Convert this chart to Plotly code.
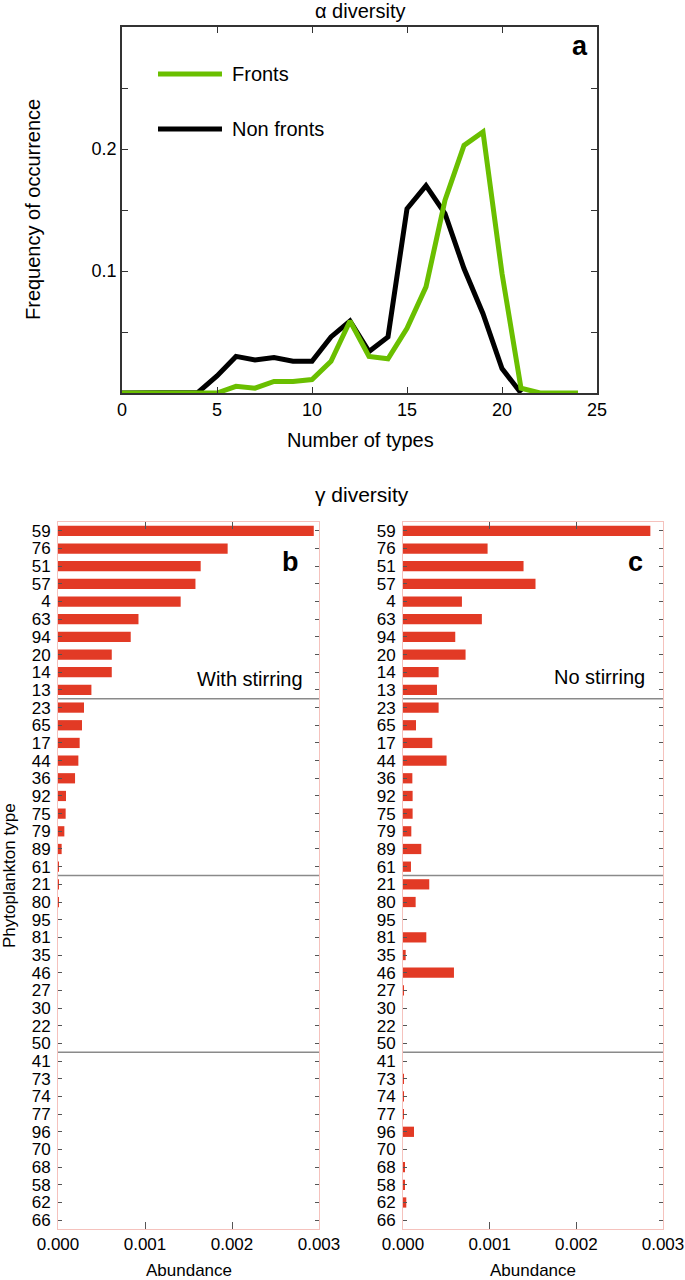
import plotly.graph_objects as go

# ---- data: panel a (alpha diversity) ----
fronts_x = list(range(0, 25))
fronts_y = [0, 0, 0, 0, 0, 0, 0.0055, 0.004, 0.0095, 0.0095, 0.011, 0.026, 0.059,
            0.030, 0.028, 0.053, 0.087, 0.158, 0.203, 0.214, 0.098, 0.004, 0, 0, 0]
nonfronts_x = list(range(0, 22))
nonfronts_y = [0, 0, 0, 0, 0.0005, 0.014, 0.030, 0.027, 0.029, 0.026, 0.026, 0.046,
               0.059, 0.034, 0.046, 0.151, 0.170, 0.147, 0.102, 0.065, 0.020, 0]

# ---- data: panels b, c (gamma diversity) ----
types = ["59", "76", "51", "57", "4", "63", "94", "20", "14", "13",
         "23", "65", "17", "44", "36", "92", "75", "79", "89", "61",
         "21", "80", "95", "81", "35", "46", "27", "30", "22", "50",
         "41", "73", "74", "77", "96", "70", "68", "58", "62", "66"]
with_stirring = [0.00294, 0.00195, 0.00164, 0.00158, 0.00141, 0.000925, 0.000836, 0.000618, 0.000618, 0.000384,
                 0.000299, 0.000276, 0.000249, 0.000234, 0.000196, 0.000092, 0.000088, 0.000073, 0.000042, 0.000008,
                 0.000008, 0.000002, 0, 0, 0, 0, 0, 0, 0, 0,
                 0, 0, 0, 0, 0, 0, 0, 0, 0, 0]
no_stirring = [0.002854, 0.000976, 0.001391, 0.001529, 0.00068, 0.00091, 0.000603, 0.000722, 0.000411, 0.000392,
               0.000411, 0.00015, 0.000338, 0.000503, 0.000108, 0.000111, 0.000111, 0.000096, 0.000211, 0.000092,
               0.000303, 0.000146, 0, 0.000269, 0.000031, 0.000588, 0.000008, 0, 0, 0,
               0, 0.000005, 0.000008, 0.000003, 0.000127, 0, 0.000015, 0.000015, 0.000038, 0]
group_size = 10

FONT = "Liberation Sans, Arial, Helvetica, sans-serif"
GREEN = "#6abf00"
RED = "#e23a25"
FRAME_PINK = "#f5c2bd"
W, H = 685, 1280

fig = go.Figure()

fig.add_trace(go.Scatter(x=nonfronts_x, y=nonfronts_y, mode="lines",
                         line=dict(color="black", width=5), name="Non fronts",
                         xaxis="x", yaxis="y", showlegend=False))
fig.add_trace(go.Scatter(x=fronts_x, y=fronts_y, mode="lines",
                         line=dict(color=GREEN, width=5), name="Fronts",
                         xaxis="x", yaxis="y", showlegend=False))

fig.add_trace(go.Bar(x=with_stirring, y=types, orientation="h", width=0.58,
                     marker=dict(color=RED, line=dict(width=0)),
                     xaxis="x2", yaxis="y2", showlegend=False))
fig.add_trace(go.Bar(x=no_stirring, y=types, orientation="h", width=0.58,
                     marker=dict(color=RED, line=dict(width=0)),
                     xaxis="x3", yaxis="y3", showlegend=False))

top_axis = dict(showline=True, linecolor="#333", linewidth=1.5, mirror="ticks",
                ticks="inside", ticklen=6, tickcolor="#333", showgrid=False,
                zeroline=False, automargin=False,
                tickfont=dict(size=18, family=FONT, color="black"))

bar_x = dict(showline=True, linecolor=FRAME_PINK, linewidth=1, mirror="ticks",
             ticks="inside", ticklen=7, tickcolor="#555", showgrid=False, zeroline=False,
             range=[0, 0.003], tickvals=[0, 0.001, 0.002, 0.003], tickformat=".3f",
             automargin=False, tickfont=dict(size=17, family=FONT, color="black"))
bar_y = dict(type="category", categoryorder="array", categoryarray=types,
             tickmode="array", tickvals=types, ticktext=types,
             range=[len(types) - 0.5, -0.5], showline=True, linecolor=FRAME_PINK,
             linewidth=1, mirror="ticks", ticks="inside", ticklen=4, tickcolor="#555",
             showgrid=False, zeroline=False, automargin=False,
             tickfont=dict(size=17, family=FONT, color="black"),
             ticklabelstandoff=3)

fig.update_layout(
    width=W, height=H,
    margin=dict(l=0, r=0, t=0, b=0, autoexpand=False),
    paper_bgcolor="white", plot_bgcolor="white",
    font=dict(family=FONT, color="black"),
    xaxis=dict(domain=[122 / W, 597 / W], range=[0, 25], tickvals=[0, 5, 10, 15, 20, 25],
               **top_axis),
    yaxis=dict(domain=[1 - 393 / H, 1 - 27 / H], range=[0, 0.3],
               tickvals=[0.05, 0.1, 0.15, 0.2, 0.25], ticktext=["", "0.1", "", "0.2", ""],
               **top_axis),
    xaxis2=dict(domain=[58 / W, 319 / W], anchor="y2", **bar_x),
    yaxis2=dict(domain=[1 - 1229 / H, 1 - 522 / H], anchor="x2", **bar_y),
    xaxis3=dict(domain=[403 / W, 663 / W], anchor="y3", **bar_x),
    yaxis3=dict(domain=[1 - 1229 / H, 1 - 522 / H], anchor="x3", **bar_y),
)

# group separators
shapes = []
for ax in ["2", "3"]:
    for k in range(1, len(types) // group_size):
        sep = k * group_size - 0.5
        shapes.append(dict(type="line", xref=f"x{ax} domain", yref=f"y{ax}",
                           x0=0, x1=1, y0=sep, y1=sep,
                           line=dict(color="#8a8a8a", width=1.5)))

# legend for panel a
for yy, col in [(0.8716, GREEN), (0.7213, "black")]:
    shapes.append(dict(type="line", xref="x domain", yref="y domain",
                       x0=0.0758, x1=0.2105, y0=yy, y1=yy,
                       line=dict(color=col, width=5)))
fig.update_layout(shapes=shapes)

ann = []
ann.append(dict(text="Fronts", xref="x domain", yref="y domain", x=0.227, y=0.8716,
                xanchor="left", yanchor="middle", showarrow=False, font=dict(size=20)))
ann.append(dict(text="Non fronts", xref="x domain", yref="y domain", x=0.227, y=0.7213,
                xanchor="left", yanchor="middle", showarrow=False, font=dict(size=20)))
ann.append(dict(text="<b>a</b>", xref="x domain", yref="y domain", x=0.964, y=0.948,
                xanchor="center", yanchor="middle", showarrow=False, font=dict(size=27)))
ann.append(dict(text="α diversity", xref="paper", yref="paper", x=360 / W, y=1 - 11 / H,
                xanchor="center", yanchor="middle", showarrow=False, font=dict(size=20)))
ann.append(dict(text="Number of types", xref="paper", yref="paper", x=360 / W, y=1 - 440 / H,
                xanchor="center", yanchor="middle", showarrow=False, font=dict(size=20)))
ann.append(dict(text="Frequency of occurrence", xref="paper", yref="paper", x=33 / W,
                y=1 - 210 / H, xanchor="center", yanchor="middle", textangle=-90,
                showarrow=False, font=dict(size=20)))
ann.append(dict(text="γ diversity", xref="paper", yref="paper", x=362 / W, y=1 - 494 / H,
                xanchor="center", yanchor="middle", showarrow=False, font=dict(size=21)))
ann.append(dict(text="Phytoplankton type", xref="paper", yref="paper", x=9 / W,
                y=1 - 876 / H, xanchor="center", yanchor="middle", textangle=-90,
                showarrow=False, font=dict(size=17)))
for ax, lab, note, lx, nx, ny in [("2", "b", "With stirring", 0.889, 0.946, 0.778),
                                  ("3", "c", "No stirring", 0.896, 0.937, 0.781)]:
    ann.append(dict(text=f"<b>{lab}</b>", xref=f"x{ax} domain", yref=f"y{ax} domain",
                    x=lx, y=0.944, xanchor="center", yanchor="middle", showarrow=False,
                    font=dict(size=27)))
    ann.append(dict(text=note, xref=f"x{ax} domain", yref=f"y{ax} domain",
                    x=nx, y=ny, xanchor="right", yanchor="middle", showarrow=False,
                    font=dict(size=20)))
    ann.append(dict(text="Abundance", xref=f"x{ax} domain", yref="paper",
                    x=0.5, y=1 - 1270 / H, xanchor="center", yanchor="middle",
                    showarrow=False, font=dict(size=17)))
fig.update_layout(annotations=ann)

fig.write_html("out.html", config={"displayModeBar": False},
               post_script="document.body.style.margin='0';document.body.style.padding='0';")
